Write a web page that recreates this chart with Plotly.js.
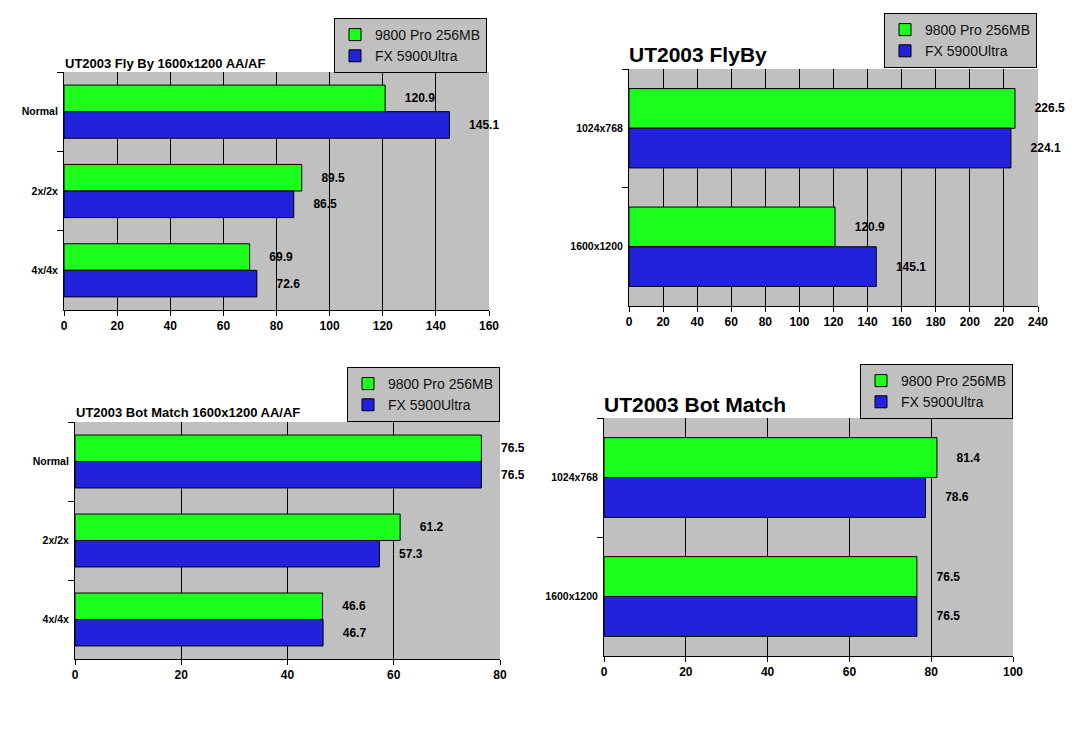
<!DOCTYPE html>
<html>
<head>
<meta charset="utf-8">
<script src="https://cdn.plot.ly/plotly-3.0.1.min.js"></script>
<style>
    body { margin: 0; background: #ffffff; }
    #chart { width: 1076px; height: 735px; }
</style>
</head>
<body>
<div id="chart"></div>
<script>
// UT2003 results
const seriesNames = ['9800 Pro 256MB', 'FX 5900Ultra'];

const aaCats = ['Normal', '2x/2x', '4x/4x'];
const resCats = ['1024x768', '1600x1200'];

const flyByAaRadeon = [120.9, 89.5, 69.9];
const flyByAaFx = [145.1, 86.5, 72.6];

const flyByResRadeon = [226.5, 120.9];
const flyByResFx = [224.1, 145.1];

const botAaRadeon = [76.5, 61.2, 46.6];
const botAaFx = [76.5, 57.3, 46.7];

const botResRadeon = [81.4, 76.5];
const botResFx = [78.6, 76.5];

const W = 1076, H = 735;
const FONT = 'Arial, "Liberation Sans", sans-serif';
const GREEN = '#1cff1c';
const BLUE = '#2222dc';
const GREY = '#c0c0c0';

// pixel box -> paper domain
function dx(a, b) { return [a / W, b / W]; }
function dy(top, bottom) { return [1 - bottom / H, 1 - top / H]; }

function barTrace(name, cats, vals, color, ax, legend) {
    return {
        type: 'bar',
        orientation: 'h',
        name: name,
        y: cats,
        x: vals,
        xaxis: 'x' + ax,
        yaxis: 'y' + ax,
        legend: legend,
        marker: { color: color, line: { color: '#000000', width: 1 } },
        texttemplate: '\u00a0\u00a0\u00a0\u00a0\u00a0%{x:.1f}',
        textposition: 'outside',
        cliponaxis: false,
        textfont: { family: FONT, size: 12, color: '#000000', weight: 'bold' },
        hoverinfo: 'x+name'
    };
}

var data = [
    barTrace(seriesNames[0], aaCats, flyByAaRadeon, GREEN, '', 'legend'),
    barTrace(seriesNames[1], aaCats, flyByAaFx, BLUE, '', 'legend'),
    barTrace(seriesNames[0], resCats, flyByResRadeon, GREEN, '2', 'legend2'),
    barTrace(seriesNames[1], resCats, flyByResFx, BLUE, '2', 'legend2'),
    barTrace(seriesNames[0], aaCats, botAaRadeon, GREEN, '3', 'legend3'),
    barTrace(seriesNames[1], aaCats, botAaFx, BLUE, '3', 'legend3'),
    barTrace(seriesNames[0], resCats, botResRadeon, GREEN, '4', 'legend4'),
    barTrace(seriesNames[1], resCats, botResFx, BLUE, '4', 'legend4')
];

function xAxis(domain, max, anchor) {
    return {
        domain: domain,
        anchor: anchor,
        range: [0, max],
        dtick: 20,
        showgrid: true,
        gridcolor: '#000000',
        gridwidth: 1,
        zeroline: false,
        showline: true,
        linecolor: '#000000',
        ticks: 'outside',
        ticklen: 5,
        tickcolor: '#000000',
        tickfont: { family: FONT, size: 12, color: '#000000', weight: 'bold' },
        fixedrange: true
    };
}

function yAxis(domain, anchor) {
    return {
        domain: domain,
        anchor: anchor,
        type: 'category',
        autorange: 'reversed',
        showgrid: false,
        zeroline: false,
        showline: true,
        linecolor: '#000000',
        ticks: 'outside',
        tickson: 'boundaries',
        ticklen: 6,
        tickcolor: '#000000',
        ticklabelstandoff: 3,
        tickfont: { family: FONT, size: 10.5, color: '#000000', weight: 'bold' },
        fixedrange: true
    };
}

function legendBox(xRight, yBottom) {
    return {
        x: xRight / W,
        y: 1 - yBottom / H,
        xanchor: 'right',
        yanchor: 'bottom',
        bgcolor: GREY,
        bordercolor: '#000000',
        borderwidth: 1,
        itemwidth: 30,
        font: { family: FONT, size: 14, color: '#111111' },
        itemclick: false,
        itemdoubleclick: false
    };
}

function title(text, xPx, yPx, size) {
    return {
        text: text,
        xref: 'paper',
        yref: 'paper',
        x: xPx / W,
        y: 1 - yPx / H,
        xanchor: 'left',
        yanchor: 'middle',
        showarrow: false,
        font: { family: FONT, size: size, color: '#000000', weight: 'bold' }
    };
}

const layout = {
    width: W,
    height: H,
    margin: { l: 0, r: 0, t: 0, b: 0 },
    paper_bgcolor: '#ffffff',
    plot_bgcolor: GREY,
    barmode: 'group',
    bargap: 0.33,
    bargroupgap: 0,
    showlegend: true,

    xaxis: xAxis(dx(64, 489), 160, 'y'),
    yaxis: yAxis(dy(72, 310), 'x'),
    xaxis2: xAxis(dx(629, 1038), 240, 'y2'),
    yaxis2: yAxis(dy(69, 306), 'x2'),
    xaxis3: xAxis(dx(75, 500), 80, 'y3'),
    yaxis3: yAxis(dy(422, 659), 'x3'),
    xaxis4: xAxis(dx(604, 1013), 100, 'y4'),
    yaxis4: yAxis(dy(418, 656), 'x4'),

    legend: legendBox(487, 73),
    legend2: legendBox(1037, 68),
    legend3: legendBox(500, 422),
    legend4: legendBox(1013, 419),

    annotations: [
        title('UT2003 Fly By 1600x1200 AA/AF', 63, 63, 13),
        title('UT2003 FlyBy', 627, 55, 21),
        title('UT2003 Bot Match 1600x1200 AA/AF', 74, 412, 13),
        title('UT2003 Bot Match', 602, 405, 21)
    ]
};

Plotly.newPlot('chart', data, layout, { displayModeBar: false, staticPlot: true });
</script>
</body>
</html>
